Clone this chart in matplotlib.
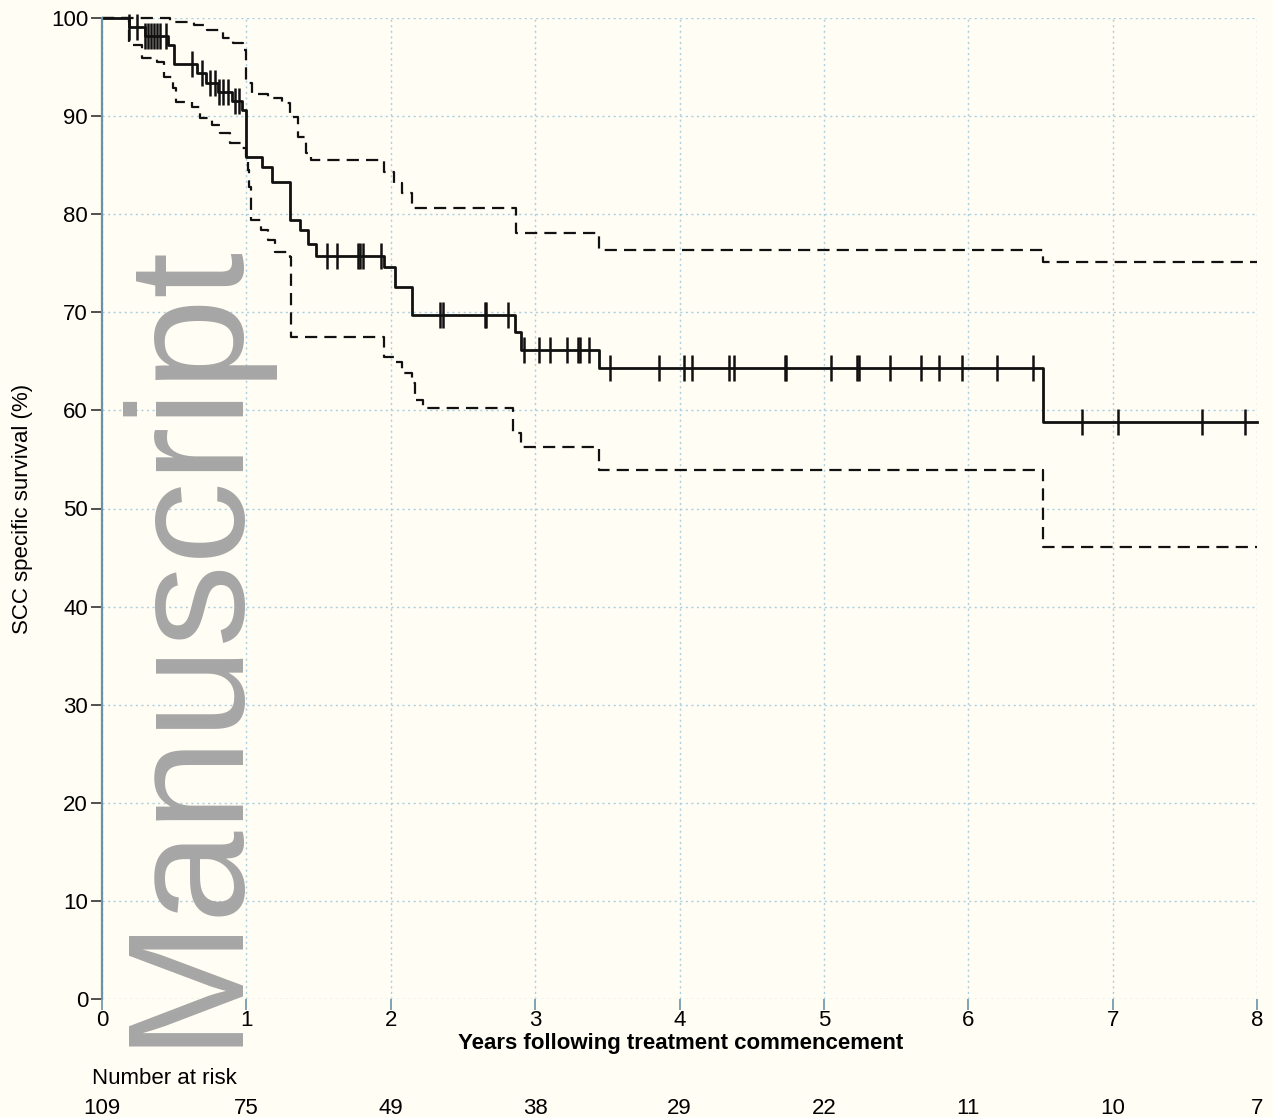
import matplotlib.pyplot as plt
import matplotlib.transforms as mtransforms
import numpy as np

plt.rcParams["font.family"] = ["Liberation Sans", "DejaVu Sans"]

# Kaplan-Meier estimate: time of each step (years) and survival after it (%)
km_time = [0, 0.19, 0.30, 0.46, 0.50, 0.66, 0.72, 0.80, 0.90, 0.97, 1.00, 1.11, 1.18,
           1.30, 1.37, 1.43, 1.48, 1.95, 2.03, 2.15, 2.86, 2.90, 3.44, 6.52]
km_surv = [100, 99.1, 98.2, 97.2, 95.3, 94.4, 93.4, 92.5, 91.5, 90.6, 85.8, 84.8, 83.3,
           79.4, 78.4, 77.0, 75.7, 74.6, 72.6, 69.7, 68.0, 66.2, 64.3, 58.8]

# 95% confidence band
upper_time = [0, 0.47, 0.64, 0.73, 0.84, 0.91, 0.98, 1.00, 1.04, 1.15, 1.25, 1.30, 1.36,
              1.41, 1.45, 1.95, 2.02, 2.08, 2.15, 2.87, 3.44, 6.52]
upper_surv = [100, 99.6, 99.3, 98.8, 98.0, 97.5, 96.7, 93.4, 92.3, 91.8, 91.3, 89.9, 87.9,
              86.2, 85.5, 84.3, 83.2, 82.2, 80.6, 78.1, 76.3, 75.1]
lower_time = [0, 0.19, 0.28, 0.38, 0.43, 0.49, 0.51, 0.62, 0.68, 0.76, 0.82, 0.89, 0.97,
              1.00, 1.01, 1.02, 1.03, 1.10, 1.15, 1.20, 1.30, 1.31, 1.95, 2.03, 2.08,
              2.15, 2.17, 2.22, 2.85, 2.90, 3.44, 6.52]
lower_surv = [100, 97.2, 95.9, 95.5, 94.0, 92.9, 91.4, 90.9, 89.8, 89.1, 88.3, 87.3, 86.7,
              85.8, 84.5, 82.8, 79.4, 78.4, 77.4, 76.1, 75.6, 67.5, 65.4, 64.9, 63.8,
              62.8, 61.1, 60.2, 57.7, 56.3, 53.9, 46.1]

# censored observations (years)
censor_time = [0.19, 0.24, 0.30, 0.32, 0.34, 0.36, 0.38, 0.40, 0.44, 0.62, 0.69, 0.75,
               0.78, 0.81, 0.84, 0.87, 0.92, 0.95, 1.56, 1.63, 1.77, 1.79, 1.81, 1.93,
               2.34, 2.36, 2.65, 2.66, 2.81, 2.92, 3.03, 3.10, 3.22, 3.30, 3.31, 3.37,
               3.52, 3.86, 4.03, 4.09, 4.34, 4.38, 4.73, 4.74, 5.05, 5.23, 5.24, 5.46,
               5.67, 5.80, 5.96, 6.20, 6.45, 6.79, 7.04, 7.62, 7.92]

risk_years = [0, 1, 2, 3, 4, 5, 6, 7, 8]
risk_counts = [109, 75, 49, 38, 29, 22, 11, 10, 7]

end_time = 8.0
bg = "#fffdf4"
W, H = 1273, 1117

fig = plt.figure(figsize=(W / 100, H / 100), dpi=100, facecolor=bg)
ax = fig.add_axes([102 / W, 1 - 999 / H, (1257 - 102) / W, (999 - 18) / H])
ax.set_facecolor(bg)


def step_line(t, s, **kw):
    ax.step(list(t) + [end_time], list(s) + [s[-1]], where="post", clip_on=False, **kw)


step_line(upper_time, upper_surv, color="#111111", lw=1.6, dashes=(5.5, 3.2))
step_line(lower_time, lower_surv, color="#111111", lw=1.6, dashes=(5.5, 3.2))
step_line(km_time, km_surv, color="#111111", lw=2.0)

idx = np.searchsorted(km_time, censor_time, side="right") - 1
censor_surv = np.array(km_surv)[idx]
ax.plot(censor_time, censor_surv, ls="none", marker="|", ms=19, mew=1.8,
        color="#111111", clip_on=False)

ax.set_xlim(0, 8)
ax.set_ylim(0, 100)
ax.set_xticks(range(0, 9))
ax.set_yticks(range(0, 101, 10))
ax.grid(True, color="#a9cfe2", lw=1.0, ls=(0, (1.5, 2.5)))
ax.set_axisbelow(True)
for side in ["top", "right", "bottom"]:
    ax.spines[side].set_visible(False)
ax.spines["left"].set_color("#6b93a8")
ax.spines["left"].set_linewidth(1.6)
ax.tick_params(axis="y", length=8, width=1.2, color="#333333", pad=2, labelsize=16)
ax.tick_params(axis="x", length=8, width=1.2, color="#6b93a8", pad=0, labelsize=16)

ax.set_ylabel("SCC specific survival (%)", fontsize=16)
ax.yaxis.set_label_coords(-0.060, 0.5)

fig.text(681 / W, 1 - 1043 / H, "Years following treatment commencement",
         fontsize=16, fontweight="bold", ha="center", va="center")
fig.text(92 / W, 1 - 1078 / H, "Number at risk", fontsize=16, ha="left", va="center")
risk_trans = mtransforms.blended_transform_factory(ax.transData, fig.transFigure)
for yr, n in zip(risk_years, risk_counts):
    ax.text(yr, 1 - 1108 / H, str(n), fontsize=16, ha="center", va="center",
            transform=risk_trans, clip_on=False)

# watermark
fig.text(231 / W, 1 - 1046 / H, "Manuscript", rotation=90, rotation_mode="anchor",
         ha="left", va="baseline", fontsize=119, color="#a6a6a6",
         family="Liberation Sans")

fig.savefig("out.png", dpi=100, facecolor=bg)
